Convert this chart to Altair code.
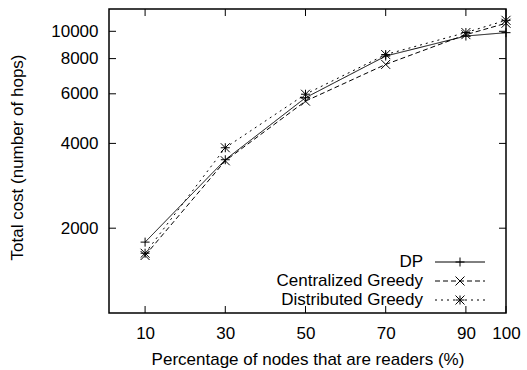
import altair as alt
import pandas as pd

# ---- data ----
percent = [10, 30, 50, 70, 90, 100]
dp_cost = [1785, 3500, 5810, 8170, 9620, 9890]
cg_cost = [1600, 3470, 5650, 7630, 9730, 10680]
dg_cost = [1630, 3860, 5980, 8270, 9900, 10940]
series_names = ["DP", "Centralized Greedy", "Distributed Greedy"]
dash_names = ["solid", "dashed", "dotted"]
marker_names = ["plus", "cross", "star"]
x_ticks = [10, 30, 50, 70, 90, 100]
y_ticks = [2000, 4000, 6000, 8000, 10000]

rows = []
for name, dash, marker, vals in zip(series_names, dash_names, marker_names,
                                    [dp_cost, cg_cost, dg_cost]):
    for p, v in zip(percent, vals):
        rows.append({"pct": p, "cost": v, "series": name, "dash": dash, "marker": marker})
df = pd.DataFrame(rows)
xt_df = pd.DataFrame({"v": x_ticks})
yt_df = pd.DataFrame({"v": y_ticks})

W, H = 397, 304
FONT = "Liberation Sans"
FS = 17
TICK = 7

x_scale = alt.Scale(domain=[1, 100], nice=False, zero=False)
y_scale = alt.Scale(type="log", domain=[1000, 12000], nice=False)

x_axis = alt.Axis(values=x_ticks, title="Percentage of nodes that are readers (%)",
                  ticks=False, tickSize=0, domain=False, grid=False,
                  labelFont=FONT, labelFontSize=FS, labelColor="black",
                  labelBaseline="alphabetic", labelPadding=25,
                  titleFont=FONT, titleFontSize=FS, titleFontWeight="normal",
                  titleColor="black", titleBaseline="alphabetic", titleY=51,
                  labelFlush=False)
y_axis = alt.Axis(values=y_ticks, format="d", title="Total cost (number of hops)",
                  ticks=False, tickSize=0, domain=False, grid=False,
                  labelFont=FONT, labelFontSize=FS, labelColor="black",
                  labelPadding=11,
                  titleFont=FONT, titleFontSize=FS, titleFontWeight="normal",
                  titleColor="black", titleAngle=270, titleBaseline="alphabetic",
                  titleAlign="center", titleX=-86.5, titleY=148)

X = lambda f: alt.X(f, scale=x_scale, axis=x_axis)
Y = lambda f: alt.Y(f, scale=y_scale, axis=y_axis)

LEG_Y = 244.25
ROW_H = 17.5
common = dict(title=None, orient="none", legendY=LEG_Y, direction="vertical",
              clipHeight=ROW_H, rowPadding=0, padding=0,
              labelFont=FONT, labelFontSize=FS, labelLimit=300)

base = alt.Chart(df)

line_sample = "M0,0H20"

lines = base.mark_line(strokeWidth=1).encode(
    x=X("pct:Q"),
    y=Y("cost:Q"),
    color=alt.Color(
        "series:N",
        scale=alt.Scale(domain=series_names, range=["black", "black", "black"]),
        legend=alt.Legend(legendX=297, symbolSize=1, symbolOpacity=0,
                          labelAlign="right", labelOffset=0,
                          labelColor="black", **common),
    ),
    strokeDash=alt.StrokeDash(
        "dash:N",
        scale=alt.Scale(domain=dash_names, range=[[1, 0], [5, 3], [2, 4]]),
        legend=alt.Legend(legendX=317.5, symbolType=line_sample, symbolSize=25,
                          symbolStrokeWidth=1, symbolStrokeColor="black",
                          symbolFillColor="transparent", labelExpr="''",
                          labelOffset=45, **common),
    ),
)

plus = "M-1,0H1M0,-1V1"
cross = "M-1,-1L1,1M-1,1L1,-1"
star = "M-1,0H1M0,-1V1M-1,-1L1,1M-1,1L1,-1"

points = base.mark_point(filled=False, color="black", strokeWidth=1, size=81, opacity=1).encode(
    x=X("pct:Q"),
    y=Y("cost:Q"),
    shape=alt.Shape(
        "marker:N",
        scale=alt.Scale(domain=marker_names, range=[plus, cross, star]),
        legend=alt.Legend(legendX=342.5, symbolSize=81, symbolStrokeWidth=1,
                          symbolStrokeColor="black", symbolFillColor="transparent",
                          labelExpr="''", **common),
    ),
)

xt = alt.Chart(xt_df)
yt = alt.Chart(yt_df)
tick_bottom = xt.mark_rule(color="black", strokeWidth=1).encode(
    x=X("v:Q"), y=alt.value(H), y2=alt.value(H - TICK))
tick_top = xt.mark_rule(color="black", strokeWidth=1).encode(
    x=X("v:Q"), y=alt.value(0), y2=alt.value(TICK))
tick_left = yt.mark_rule(color="black", strokeWidth=1).encode(
    y=Y("v:Q"), x=alt.value(0), x2=alt.value(TICK))
tick_right = yt.mark_rule(color="black", strokeWidth=1).encode(
    y=Y("v:Q"), x=alt.value(W), x2=alt.value(W - TICK))

chart = alt.layer(lines, points, tick_bottom, tick_top, tick_left, tick_right).properties(
    width=W, height=H,
    autosize=alt.AutoSizeParams(type="none"),
    padding={"left": 109, "top": 9, "right": 21, "bottom": 57},
    background="white",
).configure_view(stroke="black", strokeWidth=1.5)

chart.save("out.html", embed_options={"renderer": "svg", "actions": False})
